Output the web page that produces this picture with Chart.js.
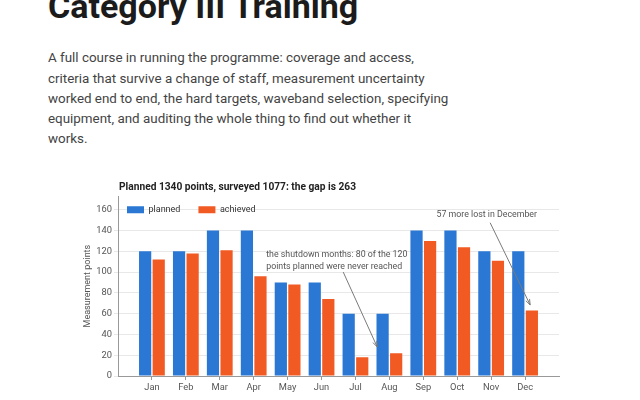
<!DOCTYPE html>
<html>
<head>
<meta charset="utf-8">
<script src="https://cdn.jsdelivr.net/npm/chart.js@4.4.1/dist/chart.umd.min.js"></script>
<style>
  html, body { margin: 0; padding: 0; background: #fff; overflow: hidden; }
  body { width: 640px; height: 400px; position: relative; font-family: Roboto, "Open Sans", sans-serif; }
  h1 { margin: -14.3px 0 0 48px; font-size: 34px; line-height: 40px; font-weight: 700; color: #1b1b1b; }
  p { margin: 22.5px 0 0 48px; width: 403px; font-size: 13.4px; line-height: 20.3px; color: #444; }
  #wrap { position: absolute; left: 48px; top: 174px; width: 522px; height: 226px; }
</style>
</head>
<body>
<h1>Category III Training</h1>
<p>A full course in running the programme: coverage and access, criteria that survive a change of staff, measurement uncertainty worked end to end, the hard targets, waveband selection, specifying equipment, and auditing the whole thing to find out whether it works.</p>
<div id="wrap"><canvas id="chart"></canvas></div>
<script>
const months = ['Jan', 'Feb', 'Mar', 'Apr', 'May', 'Jun', 'Jul', 'Aug', 'Sep', 'Oct', 'Nov', 'Dec'];
const planned = [120, 120, 140, 140, 90, 90, 60, 60, 140, 140, 120, 120];
const achieved = [112, 118, 121, 96, 88, 74, 18, 22, 130, 124, 111, 63];
const yTicks = [0, 20, 40, 60, 80, 100, 120, 140, 160];

// callouts, anchored in data units (x = month index, y = points)
const notes = [
  { lines: ['the shutdown months: 80 of the 120', 'points planned were never reached'],
    at: [3.37, 116.6], align: 'left', from: [5.64, 100], to: [6.64, 28] },
  { lines: ['57 more lost in December'],
    at: [9.87, 155.2], align: 'center', from: [9.97, 147.5], to: [11.15, 68.4] }
];

const BLUE = '#2a77d4';
const ORANGE = '#f15a22';
const FONT = 'Roboto, "Open Sans", sans-serif';

// legend takes no room in the layout, it sits inside the plot at top left
const placeBoxes = {
  id: 'placeBoxes',
  afterInit(chart) {
    const lg = chart.legend;
    const fit = lg.fit;
    lg.fit = function () {
      fit.call(this);
      this._fullHeight = this.height;
      this.height = 0;
    };
  },
  afterLayout(chart) {
    const a = chart.chartArea;
    if (chart.titleBlock) chart.titleBlock.left = a.left + 1;
    const lg = chart.legend;
    lg.left = a.left - 9;
    lg.top = a.top - 9;
    lg.height = lg._fullHeight;
    lg.bottom = lg.top + lg.height;
  }
};

const callouts = {
  id: 'callouts',
  afterDraw(chart) {
    const { ctx, scales: { x, y } } = chart;
    ctx.save();
    ctx.font = '8.8px ' + FONT;
    ctx.fillStyle = '#555';
    ctx.strokeStyle = '#7a7a7a';
    ctx.lineWidth = 1;
    ctx.textBaseline = 'middle';
    notes.forEach(n => {
      ctx.textAlign = n.align;
      const tx = x.getPixelForValue(n.at[0]);
      const ty = y.getPixelForValue(n.at[1]);
      n.lines.forEach((t, i) => ctx.fillText(t, tx, ty + i * 11.5));
      const x1 = x.getPixelForValue(n.from[0]), y1 = y.getPixelForValue(n.from[1]);
      const x2 = x.getPixelForValue(n.to[0]), y2 = y.getPixelForValue(n.to[1]);
      ctx.beginPath();
      ctx.moveTo(x1, y1);
      ctx.lineTo(x2, y2);
      ctx.stroke();
      const ang = Math.atan2(y2 - y1, x2 - x1);
      ctx.beginPath();
      ctx.moveTo(x2 - 6 * Math.cos(ang - 0.35), y2 - 6 * Math.sin(ang - 0.35));
      ctx.lineTo(x2, y2);
      ctx.lineTo(x2 - 6 * Math.cos(ang + 0.35), y2 - 6 * Math.sin(ang + 0.35));
      ctx.stroke();
    });
    ctx.restore();
  }
};

new Chart(document.getElementById('chart'), {
  type: 'bar',
  data: {
    datasets: [
      { label: 'planned', data: planned.map((v, i) => ({ x: i, y: v })), backgroundColor: BLUE },
      { label: 'achieved', data: achieved.map((v, i) => ({ x: i, y: v })), backgroundColor: ORANGE }
    ]
  },
  options: {
    responsive: true,
    maintainAspectRatio: false,
    animation: false,
    layout: { padding: { left: 30, right: 11, bottom: 4 } },
    plugins: {
      title: {
        display: true,
        text: 'Planned 1340 points, surveyed 1077: the gap is 263',
        align: 'start',
        color: '#222',
        font: { family: FONT, size: 10.2, weight: 'bold' },
        padding: { top: 7, bottom: 3 }
      },
      legend: {
        position: 'top',
        align: 'start',
        labels: {
          boxWidth: 17, boxHeight: 7, padding: 18,
          color: '#333', font: { family: FONT, size: 9 }
        }
      },
      tooltip: { enabled: false }
    },
    scales: {
      x: {
        type: 'linear',
        offset: false,
        min: -1, max: 12,
        afterBuildTicks: s => { s.ticks = months.map((m, i) => ({ value: i })); },
        afterFit: s => { s.height = 20; },
        ticks: {
          callback: v => months[v],
          color: '#555', font: { family: FONT, size: 9.3 }, padding: 2,
          autoSkip: false, maxRotation: 0
        },
        grid: { offset: false, drawOnChartArea: false, tickLength: 4, color: '#999' },
        border: { color: '#999' }
      },
      y: {
        min: 0, max: 173,
        afterBuildTicks: s => { s.ticks = yTicks.map(v => ({ value: v })); },
        afterFit: s => { s.width = 40; },
        ticks: { color: '#555', font: { family: FONT, size: 9.3 }, padding: 2 },
        grid: { color: '#e8e8e8', tickLength: 4 },
        border: { color: '#999' },
        title: {
          display: true, text: 'Measurement points', color: '#555',
          font: { family: FONT, size: 9 }, padding: { top: 4.6, bottom: 0 }
        }
      }
    }
  },
  plugins: [placeBoxes, callouts]
});
</script>
</body>
</html>
